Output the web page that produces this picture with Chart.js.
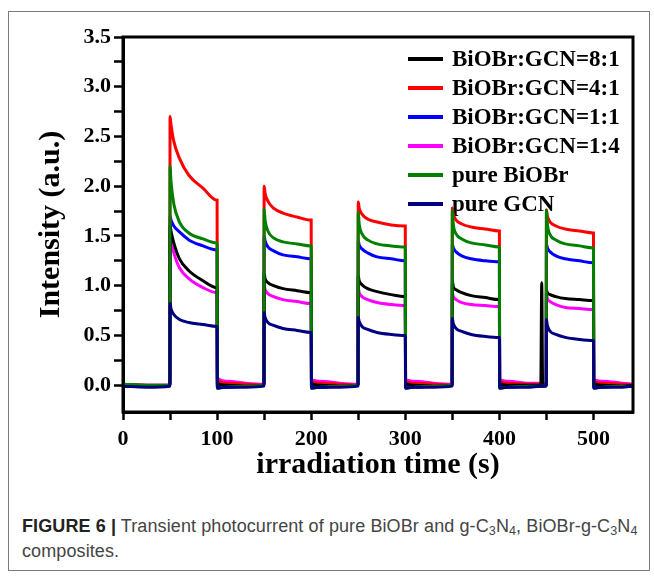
<!DOCTYPE html>
<html>
<head>
<meta charset="utf-8">
<script src="https://cdn.jsdelivr.net/npm/chart.js@4.4.1/dist/chart.umd.min.js"></script>
<style>
  body { margin: 0; background: #fff; width: 654px; height: 577px; position: relative; overflow: hidden; }
  #frame { position: absolute; left: 8px; top: 11px; width: 640px; height: 558px; border: 1px solid #7a7a7a; }
  #wrap { position: absolute; left: 0; top: 0; width: 654px; height: 490px; }
  #caption { position: absolute; left: 22px; top: 514px; width: 625px; white-space: nowrap;
    font-family: "Liberation Sans Narrow", "Liberation Sans", sans-serif; font-size: 18px; line-height: 25px;
    letter-spacing: 0.1px; color: #444; }
  #caption b { color: #222; }
  sub { font-size: 70%; vertical-align: -3px; line-height: 0; }
</style>
</head>
<body>
<div id="frame"></div>
<div id="wrap"><canvas id="myChart" width="654" height="490"></canvas></div>
<div id="caption"><b>FIGURE 6 |</b> Transient photocurrent of pure BiOBr and g-C<sub>3</sub>N<sub>4</sub>, BiOBr-g-C<sub>3</sub>N<sub>4</sub><br>composites.</div>
<script>
// time points (s), shared by all series
const time = [
  0, 25, 49.8,
  50, 51, 54, 60, 70, 85, 99.8, 100, 100.3, 110, 130, 149.8,
  150, 151, 154, 160, 170, 185, 199.8, 200, 200.3, 210, 230, 249.8,
  250, 251, 254, 260, 270, 285, 299.8, 300, 300.3, 310, 330, 349.8,
  350, 351, 354, 360, 370, 385, 399.8, 400, 400.3, 410, 430, 444, 445, 446, 449.8,
  450, 451, 454, 460, 470, 485, 499.8, 500, 500.3, 510, 530, 542
];

const labels = ["BiOBr:GCN=8:1", "BiOBr:GCN=4:1", "BiOBr:GCN=1:1", "BiOBr:GCN=1:4", "pure BiOBr", "pure GCN"];
const colors = ["#000000", "#ff0000", "#0000ff", "#ff00ff", "#008000", "#000080"];

const ratio81 = [
  0.0, -0.01, 0.0,
  1.60, 1.55, 1.43, 1.27, 1.15, 1.05, 0.98, 0.98,   0.02, 0.0, -0.01, 0.0,
  1.12, 1.07, 1.03, 1.00, 0.97, 0.95, 0.93, 0.93,   0.02, 0.0, -0.01, 0.0,
  1.10, 1.05, 1.01, 0.97, 0.94, 0.91, 0.89, 0.89,   0.02, 0.0, -0.01, 0.0,
  1.05, 0.99, 0.96, 0.93, 0.90, 0.88, 0.86, 0.86,   0.02, 0.0, 0.0, 0.0, 1.03, 0.0, 0.0,
  0.96, 0.93, 0.91, 0.89, 0.87, 0.86, 0.85, 0.85,   0.02, 0.0, -0.01, 0.0
];
const ratio41 = [
  0.01, 0.0, 0.0,
  2.70, 2.62, 2.45, 2.28, 2.11, 1.98, 1.86, 1.86,   0.05, 0.02, 0.01, 0.0,
  2.00, 1.93, 1.85, 1.78, 1.73, 1.69, 1.66, 1.66,   0.04, 0.02, 0.01, 0.0,
  1.84, 1.78, 1.72, 1.67, 1.64, 1.61, 1.60, 1.60,   0.04, 0.02, 0.01, 0.0,
  1.78, 1.72, 1.66, 1.62, 1.59, 1.57, 1.55, 1.55,   0.04, 0.02, 0.01, 0.01, 0.01, 0.01, 0.0,
  1.76, 1.70, 1.64, 1.60, 1.57, 1.55, 1.53, 1.53,   0.04, 0.02, 0.01, 0.0
];
const ratio11 = [
  0.0, -0.01, 0.0,
  1.70, 1.66, 1.60, 1.54, 1.46, 1.40, 1.36, 1.36,   -0.01, -0.02, -0.01, 0.0,
  1.50, 1.45, 1.39, 1.35, 1.31, 1.29, 1.27, 1.27,   -0.01, -0.02, -0.01, 0.0,
  1.45, 1.41, 1.37, 1.33, 1.29, 1.27, 1.25, 1.25,   -0.01, -0.02, -0.01, 0.0,
  1.42, 1.38, 1.34, 1.30, 1.27, 1.25, 1.24, 1.24,   -0.01, -0.02, -0.01, -0.01, -0.01, -0.01, 0.0,
  1.42, 1.38, 1.34, 1.30, 1.27, 1.25, 1.23, 1.23,   -0.01, -0.02, -0.01, 0.0
];
const ratio14 = [
  0.01, 0.0, 0.0,
  1.50, 1.45, 1.33, 1.18, 1.07, 0.98, 0.93, 0.93,   0.07, 0.04, 0.02, 0.01,
  1.00, 0.96, 0.92, 0.89, 0.86, 0.84, 0.82, 0.82,   0.06, 0.04, 0.02, 0.01,
  0.98, 0.93, 0.89, 0.86, 0.83, 0.81, 0.80, 0.80,   0.06, 0.04, 0.02, 0.01,
  0.93, 0.89, 0.86, 0.83, 0.81, 0.80, 0.79, 0.79,   0.06, 0.04, 0.02, 0.02, 0.02, 0.02, 0.01,
  0.92, 0.87, 0.84, 0.81, 0.78, 0.77, 0.76, 0.76,   0.06, 0.04, 0.02, 0.01
];
const pureBiOBr = [
  0.01, 0.0, 0.0,
  2.20, 2.05, 1.82, 1.64, 1.53, 1.47, 1.43, 1.43,   -0.03, -0.02, -0.01, 0.0,
  1.77, 1.66, 1.55, 1.48, 1.44, 1.42, 1.40, 1.40,   -0.03, -0.02, -0.01, 0.0,
  1.74, 1.62, 1.52, 1.46, 1.42, 1.40, 1.39, 1.39,   -0.03, -0.02, -0.01, 0.0,
  1.76, 1.62, 1.52, 1.47, 1.43, 1.41, 1.39, 1.39,   -0.03, -0.02, -0.01, -0.01, -0.01, -0.01, 0.0,
  1.76, 1.62, 1.51, 1.46, 1.42, 1.40, 1.38, 1.38,   -0.03, -0.02, -0.01, -0.01
];
const pureGCN = [
  -0.01, -0.02, -0.01,
  0.82, 0.77, 0.71, 0.66, 0.63, 0.61, 0.59, 0.59,   -0.03, -0.02, -0.02, -0.01,
  0.73, 0.68, 0.63, 0.60, 0.57, 0.55, 0.53, 0.53,   -0.03, -0.02, -0.02, -0.01,
  0.68, 0.64, 0.59, 0.56, 0.53, 0.51, 0.50, 0.50,   -0.03, -0.02, -0.02, -0.01,
  0.67, 0.62, 0.57, 0.54, 0.51, 0.49, 0.48, 0.48,   -0.03, -0.02, -0.02, -0.01, -0.01, -0.01, -0.01,
  0.66, 0.60, 0.54, 0.51, 0.48, 0.46, 0.45, 0.45,   -0.03, -0.02, -0.02, -0.01
];
const series = [ratio81, ratio41, ratio11, ratio14, pureBiOBr, pureGCN];
const drawOrder = [2, 2, 2, 2, 1, 0];

const xTicks = [0, 50, 100, 150, 200, 250, 300, 350, 400, 450, 500];
const xLabels = ["0", "", "100", "", "200", "", "300", "", "400", "", "500"];
const yTicks = [0, 0.25, 0.5, 0.75, 1, 1.25, 1.5, 1.75, 2, 2.25, 2.5, 2.75, 3, 3.25, 3.5];
const yLabels = ["0.0", "", "0.5", "", "1.0", "", "1.5", "", "2.0", "", "2.5", "", "3.0", "", "3.5"];

const serif = "'Liberation Serif', 'Times New Roman', serif";

const insideLegend = {
  id: "insideLegend",
  beforeDatasetsDraw(chart) {
    const ctx = chart.ctx;
    ctx.save();
    ctx.font = "bold 23px " + serif;
    ctx.textBaseline = "middle";
    chart.data.datasets.forEach((ds, i) => {
      const y = 59 + i * 29;
      ctx.strokeStyle = ds.borderColor;
      ctx.lineWidth = 4;
      ctx.beginPath();
      ctx.moveTo(408, y);
      ctx.lineTo(443, y);
      ctx.stroke();
      ctx.fillStyle = "#000";
      ctx.fillText(ds.label, 452, y + 1);
    });
    ctx.restore();
  },
  afterDraw(chart) {
    const a = chart.chartArea;
    const ctx = chart.ctx;
    ctx.save();
    ctx.strokeStyle = "#000";
    ctx.lineWidth = 3;
    ctx.strokeRect(a.left, a.top, a.right - a.left, a.bottom - a.top);
    ctx.restore();
  }
};

new Chart(document.getElementById("myChart"), {
  type: "line",
  data: {
    datasets: labels.map((name, i) => ({
      label: name,
      data: time.map((t, j) => ({ x: t, y: series[i][j] })),
      borderColor: colors[i],
      backgroundColor: colors[i],
      borderWidth: 3,
      pointRadius: 0,
      cubicInterpolationMode: "monotone",
      order: drawOrder[i],
    })),
  },
  options: {
    responsive: false,
    animation: false,
    layout: { padding: { top: 37, right: 21, left: 0, bottom: 0 } },
    plugins: { legend: { display: false }, tooltip: { enabled: false } },
    scales: {
      x: {
        type: "linear",
        min: 0,
        max: 542,
        afterBuildTicks: (s) => { s.ticks = xTicks.map((v) => ({ value: v })); },
        afterFit: (s) => { s.height = 78; },
        ticks: {
          autoSkip: false,
          maxRotation: 0,
          padding: 6,
          color: "#000",
          font: { family: serif, size: 22, weight: "bold" },
          callback: (v, i) => xLabels[i],
        },
        grid: { drawOnChartArea: false, tickLength: 8, tickWidth: 2.5, color: "#000" },
        border: { color: "#000", width: 3 },
        title: {
          display: true,
          text: "irradiation time (s)",
          color: "#000",
          font: { family: serif, size: 30, weight: "bold" },
          padding: { top: 0, bottom: 7 },
        },
      },
      y: {
        min: -0.27,
        max: 3.5,
        afterBuildTicks: (s) => { s.ticks = yTicks.map((v) => ({ value: v })); },
        afterFit: (s) => { s.width = 123; },
        ticks: {
          autoSkip: false,
          padding: 3,
          color: "#000",
          font: { family: serif, size: 22, weight: "bold" },
          callback: (v, i) => yLabels[i],
        },
        grid: { drawOnChartArea: false, tickLength: 9, tickWidth: 2.5, color: "#000" },
        border: { color: "#000", width: 3 },
        title: {
          display: true,
          text: "Intensity (a.u.)",
          color: "#000",
          font: { family: serif, size: 30, weight: "bold" },
          padding: { top: 33, bottom: 0 },
        },
      },
    },
  },
  plugins: [insideLegend],
});
</script>
</body>
</html>
